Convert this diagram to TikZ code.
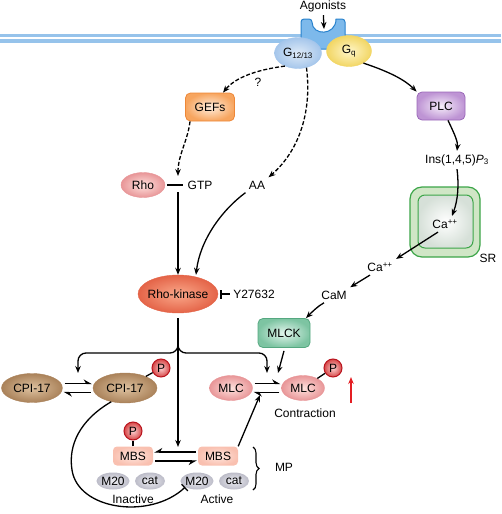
\documentclass[tikz,border=0pt]{standalone}
\usepackage{fontspec}
\setmainfont{Liberation Sans}
\usepackage{xcolor}
\usepackage{tikz}
\usetikzlibrary{arrows.meta,shapes.geometric,decorations.pathreplacing}

\definecolor{membblue}{RGB}{150,195,235}
\definecolor{recfill}{RGB}{125,185,235}
\definecolor{recline}{RGB}{40,130,205}
\definecolor{gblue}{RGB}{165,198,235}
\definecolor{gbluein}{RGB}{222,234,247}
\definecolor{gyel}{RGB}{242,214,100}
\definecolor{gyelin}{RGB}{255,246,200}
\definecolor{gefsline}{RGB}{238,135,55}
\definecolor{gefsout}{RGB}{247,165,95}
\definecolor{gefsin}{RGB}{255,238,222}
\definecolor{plcline}{RGB}{155,105,185}
\definecolor{plcout}{RGB}{190,148,212}
\definecolor{plcin}{RGB}{246,238,250}
\definecolor{pinkout}{RGB}{232,150,152}
\definecolor{pinkin}{RGB}{255,226,222}
\definecolor{rkout}{RGB}{228,100,72}
\definecolor{rkin}{RGB}{250,168,138}
\definecolor{cpiout}{RGB}{170,130,90}
\definecolor{cpiin}{RGB}{222,194,160}
\definecolor{pline}{RGB}{185,20,30}
\definecolor{pout}{RGB}{214,70,70}
\definecolor{pin}{RGB}{252,210,210}
\definecolor{mlckline}{RGB}{85,168,128}
\definecolor{mlckout}{RGB}{125,196,162}
\definecolor{mlckin}{RGB}{228,246,238}
\definecolor{mbsout}{RGB}{249,192,176}
\definecolor{mbsin}{RGB}{255,230,222}
\definecolor{subout}{RGB}{188,188,200}
\definecolor{subin}{RGB}{238,238,243}
\definecolor{srline}{RGB}{60,165,72}
\definecolor{srfill}{RGB}{208,230,198}
\definecolor{srin}{RGB}{214,224,216}
\definecolor{upred}{RGB}{228,30,35}

\begin{document}
\begin{tikzpicture}[x=1pt, y=-1pt, font=\fontsize{12}{14}\selectfont]
        \tikzstyle{arrow} = [-{Stealth[length=7pt,width=5.5pt]}, line width=1.3pt]
        \tikzstyle{darrow} = [arrow, dash pattern=on 4pt off 2pt]
        \tikzstyle{harp} = [-{Stealth[harpoon,length=7pt,width=8pt]}, line width=1.3pt, shorten <=2pt, shorten >=1pt]
        \tikzstyle{inhib} = [-{Bar[width=9pt,line width=1.3pt]}, line width=1.3pt]
        \tikzstyle{stick} = [line width=1.3pt]
        \tikzstyle{oval} = [ellipse, inner sep=0pt]
        \tikzstyle{box} = [rectangle, rounded corners=5pt, inner sep=0pt]
        \tikzstyle{gbox} = [oval, inner color=gbluein, outer color=gblue, draw=gblue, minimum width=47pt, minimum height=31pt]
        \tikzstyle{qbox} = [oval, inner color=gyelin, outer color=gyel, draw=gyel, minimum width=45pt, minimum height=31pt]
        \tikzstyle{gefsbox} = [box, inner color=gefsin, outer color=gefsout, draw=gefsline, line width=0.8pt, minimum width=49pt, minimum height=28pt]
        \tikzstyle{plcbox} = [box, inner color=plcin, outer color=plcout, draw=plcline, line width=0.8pt, minimum width=48pt, minimum height=28pt]
        \tikzstyle{mlckbox} = [box, inner color=mlckin, outer color=mlckout, draw=mlckline, line width=0.8pt, minimum width=52pt, minimum height=29pt]
        \tikzstyle{pinkoval} = [oval, inner color=pinkin, outer color=pinkout, draw=pinkout, minimum width=43pt, minimum height=25pt]
        \tikzstyle{rkoval} = [oval, inner xsep=-3pt, inner color=rkin, outer color=rkout, draw=rkout, minimum width=80pt, minimum height=38pt]
        \tikzstyle{cpioval} = [oval, inner color=cpiin, outer color=cpiout, draw=cpiout, minimum width=62pt, minimum height=30pt]
        \tikzstyle{pball} = [circle, inner sep=0pt, minimum size=18pt, inner color=pin, outer color=pout, draw=pline, line width=1pt]
        \tikzstyle{mbsbox} = [rectangle, rounded corners=4pt, inner sep=0pt, inner color=mbsin, outer color=mbsout, minimum width=40pt, minimum height=19pt]
        \tikzstyle{subunit} = [oval, inner color=subin, outer color=subout, minimum width=30pt, minimum height=17pt]
        \tikzstyle{mpbrace} = [decorate, decoration={brace, amplitude=6pt}, line width=1.1pt]

        \useasboundingbox (0,0) rectangle (501,514);

        % membrane and receptor
        \fill[membblue] (0,34) rectangle (501,43);
        \draw[white, line width=2.4pt] (0,38) -- (501,38);
        \filldraw[fill=recfill, draw=recline, line width=1pt, rounded corners=3pt] (301,49) -- (301,19) -- (312,19) [sharp corners] .. controls (312,36) and (336,36) .. (336,19) [rounded corners=3pt] -- (345,19) -- (345,49) -- cycle;

        \node (ago) at (323,6) {Agonists};
        \coordinate (notch) at (324,29);
        \node (g12) [gbox] at (298,53) {G\textsubscript{12/13}};
        \node (gq) [qbox] at (349,51) {G\textsubscript{q}};

        \node (gefs) [gefsbox] at (210,107) {GEFs};
        \node (qmark) at (258,82) {?};
        \node (plc) [plcbox] at (441,106) {PLC};

        \node (rho) [pinkoval, minimum width=44pt] at (143,185) {Rho};
        \node (gtp) at (200,185) {GTP};
        \coordinate (rj) at (178,184);
        \node (aa) at (257,185) {AA};
        \node (ins) at (457,160) {Ins(1,4,5)\textit{P}\textsubscript{3}};

        % sarcoplasmic reticulum
        \node (sr) [rectangle, rounded corners=12pt, minimum width=70pt, minimum height=70pt, fill=srfill, draw=srline, line width=1.2pt] at (445,222) {};
        \node (srinner) [rectangle, rounded corners=7pt, minimum width=55pt, minimum height=53pt, inner color=white, outer color=srin, draw=srline, line width=1pt] at (445.5,221.5) {};
        \node (cain) at (445,224) {Ca\textsuperscript{++}};
        \node (srlbl) at (488,258) {SR};
        \node (caout) at (380,267) {Ca\textsuperscript{++}};
        \node (cam) at (334,295) {CaM};

        \node (rhok) [rkoval] at (178,294) {Rho-kinase};
        \node (y27) at (254,294) {Y27632};
        \node (mlck) [mlckbox] at (284,333) {MLCK};

        \node (cpi) [cpioval, minimum width=61pt, minimum height=29pt] at (32,388) {CPI-17};
        \node (cpip) [cpioval, minimum width=64pt] at (125,388) {CPI-17};
        \node (pcpi) [pball] at (161,368) {P};
        \node (mlc) [pinkoval] at (231,388) {MLC};
        \node (mlcp) [pinkoval] at (303,388) {MLC};
        \node (pmlc) [pball] at (333,368) {P};
        \node (contr) at (305,413) {Contraction};

        \node (mbsi) [mbsbox] at (133,456) {MBS};
        \node (pmbs) [pball] at (133,431) {P};
        \node (mbsa) [mbsbox] at (218,456) {MBS};
        \node (m20i) [subunit] at (113,481) {M20};
        \node (cati) [subunit] at (150,481) {cat};
        \node (m20a) [subunit] at (197,481) {M20};
        \node (cata) [subunit] at (234,481) {cat};
        \node (inact) at (133,499) {Inactive};
        \node (act) at (217,499) {Active};
        \node (mp) at (284,467) {MP};

        \coordinate (fork) at (178,353);
        \coordinate (cpieq) at (78,373);
        \coordinate (mlceq) at (267,373);
        \coordinate (mbseq) at (178,447);
        \coordinate (mlckin) at (278,373);
        \coordinate (mlcin) at (260,395);
        \coordinate (upb) at (351,403);
        \coordinate (upt) at (351,377);
        \coordinate (mptop) at (253,447);
        \coordinate (mpbot) at (253,490);

        % signalling from the receptor
        \draw[arrow] (ago) -- (notch);
        \draw[darrow] (g12.225) .. controls (255,70) and (235,78) .. ([xshift=13pt]gefs.north);
        \draw[darrow, shorten >=0pt] ([xshift=-20pt]gefs.south) .. controls (188,140) and (178,155) .. ([yshift=8pt]rj);
        \draw[stick, shorten <=2pt, shorten >=1pt] (rho) -- (gtp);
        \draw[arrow] ([yshift=-8pt]rj) -- (rhok);
        \draw[darrow] (g12.300) .. controls (312,110) and (300,150) .. (aa.north east);
        \draw[arrow] (aa.south west) .. controls (222,210) and (200,240) .. ([xshift=18pt]rhok.north);
        \draw[inhib, shorten >=2pt] (y27) -- (rhok);

        \draw[arrow] (gq.320) .. controls (390,72) and (405,80) .. (plc.north west);
        \draw[arrow] ([xshift=7pt]plc.south) .. controls (455,135) and (458,142) .. (ins.north);
        \draw[arrow] (ins.south) .. controls (459,185) and (458,200) .. ([xshift=7pt]cain.north);
        \draw[arrow] ([xshift=-7pt]cain.south) -- (caout.north east);
        \draw[arrow] ([xshift=-10pt]caout.south) -- (cam.north east);
        \draw[arrow] ([xshift=-10pt]cam.south) .. controls (318,306) and (312,312) .. ([xshift=22pt]mlck.north);

        % rho-kinase targets
        \draw[arrow, rounded corners=8pt] ([yshift=-5pt]rhok.south) -- (fork) -| (cpieq);
        \draw[arrow, rounded corners=8pt] ([yshift=-5pt]rhok.south) -- (fork) -| (mlceq);
        \draw[arrow] ([yshift=-5pt]rhok.south) -- (mbseq);
        \draw[arrow] ([yshift=-3pt]mlck.south) -- (mlckin);
        \draw[arrow] (mbsa.north east) -- (mlcin);

        \draw[harp] ([yshift=4.5pt]cpi.east) -- ([yshift=4.5pt]cpip.west);
        \draw[harp] ([yshift=-4.5pt]cpip.west) -- ([yshift=-4.5pt]cpi.east);
        \draw[harp] ([yshift=4.5pt]mlc.east) -- ([yshift=4.5pt]mlcp.west);
        \draw[harp] ([yshift=-4.5pt]mlcp.west) -- ([yshift=-4.5pt]mlc.east);
        \draw[harp, -{Stealth[harpoon,swap,length=7pt,width=8pt]}] ([yshift=4pt]mbsa.west) -- ([yshift=4pt]mbsi.east);
        \draw[harp, -{Stealth[harpoon,swap,length=7pt,width=8pt]}] ([yshift=-5pt]mbsi.east) -- ([yshift=-5pt]mbsa.west);

        \draw[stick] (cpip) -- (pcpi);
        \draw[stick] (mlcp) -- (pmlc);
        \draw[stick] (mbsi) -- (pmbs);

        \draw[inhib] (cpip.225) .. controls (80,420) and (68,445) .. (72,470) .. controls (78,510) and (150,520) .. (m20a.south west);
        \draw[mpbrace] (mptop) -- (mpbot);
        \draw[arrow, upred, line width=1.4pt] (upb) -- (upt);
\end{tikzpicture}
\end{document}
